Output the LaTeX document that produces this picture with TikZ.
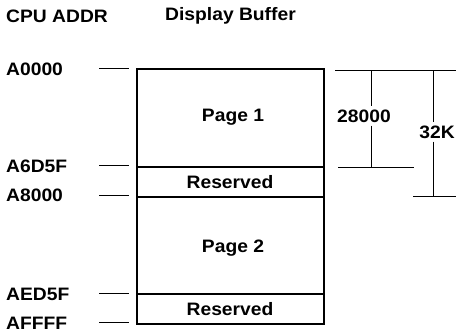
\documentclass[tikz,border=0pt]{standalone}
\usepackage{fontspec}
\setmainfont{Liberation Sans}[FakeStretch=1.07]
\begin{document}
\begin{tikzpicture}[x=1pt,y=-1pt,
  lbl/.style={font=\fontsize{18}{20}\bfseries\selectfont, inner sep=0pt},
  addr/.style={lbl, anchor=west},
  boxline/.style={line width=1.6pt},
  thin/.style={line width=1pt}]
\useasboundingbox (0,0) rectangle (456,334);
% headers
\node[addr] (hcpu) at (6,16) {CPU ADDR};
\node[addr] (hbuf) at (165,16) {Display Buffer};
% boundary coordinates
\coordinate (tl) at (137,69);
\coordinate (br) at (324,324);
\coordinate (d1l) at (137,167); \coordinate (d1r) at (324,167);
\coordinate (d2l) at (137,197); \coordinate (d2r) at (324,197);
\coordinate (d3l) at (137,294); \coordinate (d3r) at (324,294);
% box
\draw[boxline] (tl) rectangle (br);
\draw[boxline] (d1l) -- (d1r);
\draw[boxline] (d2l) -- (d2r);
\draw[boxline] (d3l) -- (d3r);
% region labels
\node[lbl] (p1) at (233,117) {Page 1};
\node[lbl] (r1) at (230,182) {Reserved};
\node[lbl] (p2) at (233,248) {Page 2};
\node[lbl] (r2) at (230,309) {Reserved};
% address labels
\node[addr] (a0) at (6,69) {A0000};
\node[addr] (a1) at (6,166) {A6D5F};
\node[addr] (a2) at (6,195) {A8000};
\node[addr] (a3) at (6,294) {AED5F};
\node[addr] (a4) at (6,323) {AFFFF};
% ticks
\coordinate (t0a) at (99,69);  \coordinate (t0b) at (129,69);
\coordinate (t1a) at (99,166); \coordinate (t1b) at (129,166);
\coordinate (t2a) at (99,196); \coordinate (t2b) at (129,196);
\coordinate (t3a) at (99,294); \coordinate (t3b) at (129,294);
\coordinate (t4a) at (99,323); \coordinate (t4b) at (129,323);
\foreach \i in {0,...,4} \draw[thin] (t\i a) -- (t\i b);
% dimensions
\coordinate (dt0) at (335,71); \coordinate (dt1) at (456,71);
\coordinate (db0) at (338,168); \coordinate (db1) at (414,168);
\coordinate (dc0) at (413,197); \coordinate (dc1) at (456,197);
\draw[thin] (dt0) -- (dt1);
\draw[thin] (db0) -- (db1);
\draw[thin] (dc0) -- (dc1);
\node[lbl, fill=white, inner ysep=3pt] (n28) at (364,116) {28000};
\node[lbl, fill=white, inner ysep=3pt] (n32) at (437,132) {32K};
\coordinate (v1t) at (371,71); \coordinate (v1b) at (371,168);
\coordinate (v2t) at (433,71); \coordinate (v2b) at (433,197);
\draw[thin] (v1t) -- (v1t |- n28.north);
\draw[thin] (v1b |- n28.south) -- (v1b);
\draw[thin] (v2t) -- (v2t |- n32.north);
\draw[thin] (v2b |- n32.south) -- (v2b);
\end{tikzpicture}
\end{document}
